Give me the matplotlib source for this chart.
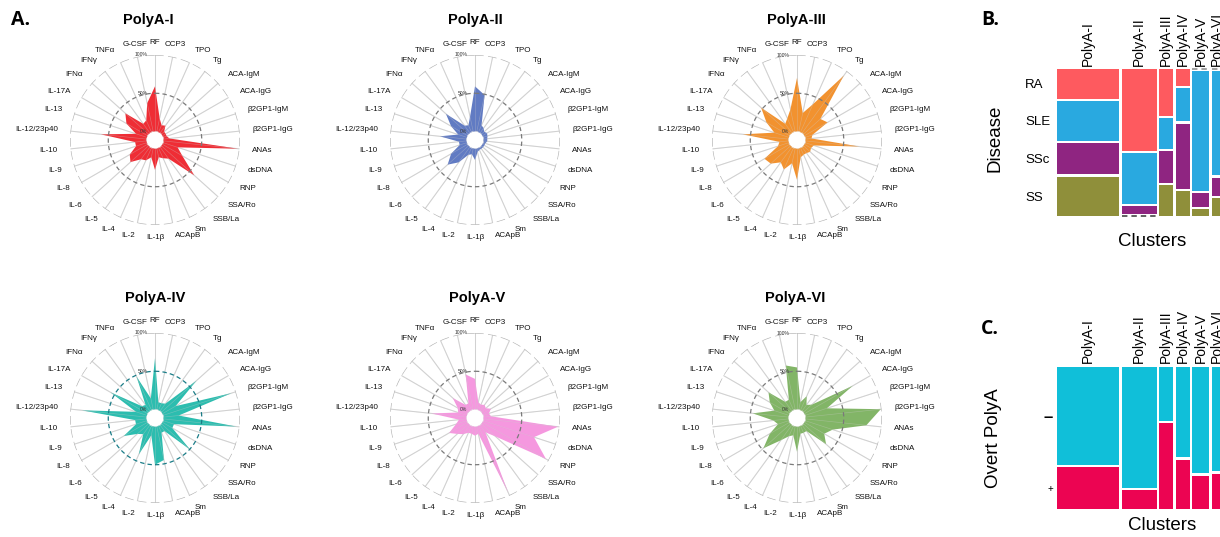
import numpy as np
import matplotlib
matplotlib.use("Agg")
import matplotlib.pyplot as plt

plt.rcParams["font.family"] = ["Liberation Sans", "DejaVu Sans"]

# ---------------- radar data (percent of cluster positive) ----------------
markers = ["RF", "CCP3", "TPO", "Tg", "ACA-IgM", "ACA-IgG", "β2GP1-IgM",
           "β2GP1-IgG", "ANAs", "dsDNA", "RNP", "SSA/Ro", "SSB/La", "Sm",
           "ACApB", "IL-1β", "IL-2", "IL-4", "IL-5", "IL-6", "IL-8", "IL-9",
           "IL-10", "IL-12/23p40", "IL-13", "IL-17A", "IFNα", "IFNγ", "TNFα",
           "G-CSF"]

polya_1 = [59, 18, 10, 12, 5, 5, 5, 8, 98, 20, 30, 58, 19, 15, 12, 28, 12, 18,
           20, 32, 27, 15, 15, 60, 15, 32, 41, 15, 17, 38]
polya_2 = [59, 49, 10, 8, 5, 7, 6, 5, 5, 3, 3, 3, 3, 3, 5, 15, 8, 10, 25, 37,
           25, 10, 10, 35, 12, 25, 40, 12, 10, 20]
polya_3 = [70, 25, 40, 93, 30, 35, 10, 8, 71, 12, 10, 12, 10, 10, 12, 41, 20,
           31, 25, 35, 38, 15, 12, 60, 20, 35, 52, 15, 20, 30]
polya_4 = [67, 10, 10, 12, 62, 20, 94, 20, 96, 15, 15, 51, 10, 10, 45, 50, 12,
           41, 15, 20, 36, 15, 15, 85, 15, 56, 12, 10, 48, 15]
polya_5 = [40, 10, 8, 10, 8, 13, 8, 10, 98, 70, 96, 25, 12, 95, 10, 12, 10, 10,
           15, 20, 28, 15, 10, 46, 12, 15, 28, 10, 10, 47]
polya_6 = [55, 10, 20, 10, 15, 73, 30, 99, 80, 38, 30, 40, 10, 10, 10, 33, 12,
           15, 25, 48, 30, 15, 20, 47, 20, 30, 39, 15, 15, 59]

cluster_names = ["PolyA-I", "PolyA-II", "PolyA-III", "PolyA-IV", "PolyA-V",
                 "PolyA-VI"]
cluster_colors = ["#EE1D25", "#5571BF", "#F28A1F", "#1CB8A9", "#F590DD",
                  "#79B05B"]

# ---------------- mosaic data ----------------
cluster_sizes = [62, 35, 14, 14, 17, 10]
diseases = ["RA", "SLE", "SSc", "SS"]
disease_colors = ["#FE5A5F", "#29A9E0", "#8F2581", "#8F8F3A"]
ra_share = [0.214, 0.582, 0.332, 0.122, 0.0, 0.0]
sle_share = [0.280, 0.364, 0.224, 0.236, 0.852, 0.743]
ssc_share = [0.225, 0.054, 0.222, 0.463, 0.100, 0.128]
ss_share = [0.281, 0.0, 0.222, 0.179, 0.048, 0.129]

overt_levels = ["–", "+"]
overt_colors = ["#10BFD9", "#EC0452"]
overt_neg = [0.703, 0.864, 0.388, 0.647, 0.761, 0.747]
overt_pos = [0.297, 0.136, 0.612, 0.353, 0.239, 0.253]

W, H = 1220, 537
fig = plt.figure(figsize=(W / 100, H / 100), dpi=100)


def px_axes(left, top, width, height, **kw):
    return fig.add_axes([left / W, 1 - (top + height) / H, width / W,
                         height / H], **kw)


# ---------------- radar panels ----------------
theta = np.linspace(0, 2 * np.pi, len(markers), endpoint=False)
circle = np.linspace(0, 2 * np.pi, 721)
R_IN = 100 / 9
RADIUS = 85


def radar(cx, cy, values, color, title, title_x, mid_color="#7a7a7a"):
    ax = px_axes(cx - RADIUS, cy - RADIUS, 2 * RADIUS, 2 * RADIUS,
                 projection="polar")
    ax.set_theta_zero_location("N")
    ax.set_theta_direction(-1)
    ax.set_ylim(0, 100)
    ax.set_rorigin(-R_IN)
    ax.axis("off")

    for t in theta:
        ax.plot([t, t], [0, 100], color="#cfcfcf", lw=0.75, zorder=1)
    ax.plot(circle, np.full_like(circle, 100), color="#b3b3b3", lw=0.9,
            ls=(0, (7, 3.5)), zorder=1)

    v = np.asarray(values, dtype=float)
    ax.fill(np.r_[theta, theta[:1]], np.r_[v, v[:1]], color=color,
            alpha=0.93, lw=0, zorder=2)
    for t in theta:
        ax.plot([t, t], [0, 100], color="#d8d8d8", lw=0.5, alpha=0.35,
                zorder=3)

    ax.plot(circle, np.full_like(circle, 50), color=mid_color, lw=0.9,
            ls=(0, (3.5, 2.5)), zorder=4)
    ax.plot(circle, np.zeros_like(circle), color="#e4e4e4", lw=0.7,
            ls=(0, (3, 2)), zorder=4)

    for txt, r in (("100%", 100), ("50%", 50), ("0%", 0)):
        ax.annotate(txt, xy=(0, r), xytext=(-5.5, 0),
                    textcoords="offset points", ha="right", va="center",
                    fontsize=3.6, color="#333333", zorder=5)

    r_lab = 1.15 * (100 + R_IN) - R_IN
    for t, name in zip(theta, markers):
        s, c = np.sin(t), np.cos(t)
        if abs(s) < 0.01 or (abs(s) < 0.25 and c > 0):
            ha = "center"
        else:
            ha = "left" if s > 0 else "right"
        ax.text(t, r_lab, name, ha=ha, va="center", fontsize=5.8,
                color="#111111")

    fig.text(title_x / W, 1 - (cy - 120) / H, title, ha="center",
             va="center", fontsize=10.5, fontweight="bold")


centers = [(155, 140), (475, 140), (797, 140),
           (155, 418), (475, 418), (797, 418)]
title_xs = [148, 475, 796, 155, 477, 795]
series = [polya_1, polya_2, polya_3, polya_4, polya_5, polya_6]
for i, ((cx, cy), vals) in enumerate(zip(centers, series)):
    radar(cx, cy, vals, cluster_colors[i], cluster_names[i], title_xs[i],
          mid_color="#1A7C87" if i == 3 else "#7a7a7a")


# ---------------- mosaic panels ----------------
COL_GAP = 2.6


def mosaic(top, height, shares, colors, gap_px, tick_labels):
    width = sum(cluster_sizes) + COL_GAP * (len(cluster_sizes) - 1)
    ax = px_axes(1057, top, width, height)
    ax.set_xlim(0, width)
    ax.set_ylim(1, 0)
    g = gap_px / height
    n = len(shares)
    lefts = np.r_[0, np.cumsum(np.asarray(cluster_sizes) + COL_GAP)[:-1]]
    first_centers = []
    for j, (x0, w) in enumerate(zip(lefts, cluster_sizes)):
        y = 0.0
        for k in range(n):
            h = shares[k][j] * (1 - (n - 1) * g)
            if h > 0:
                ax.bar(x0, h, width=w, bottom=y, align="edge",
                       color=colors[k], lw=0)
            else:
                ax.hlines(y, x0, x0 + w, colors="#555555" if y > 0.5 else
                          "#9a9a9a", lw=1.3, linestyles=(0, (3, 2.2)),
                          clip_on=False)
            if j == 0:
                first_centers.append(y + h / 2)
            y += h + g
    for s in ax.spines.values():
        s.set_visible(False)
    ax.xaxis.tick_top()
    ax.set_xticks(lefts + np.asarray(cluster_sizes) / 2)
    ax.set_xticklabels(cluster_names, rotation=90, fontsize=10)
    ax.tick_params(axis="x", length=0, pad=2.5)
    ax.set_yticks(first_centers)
    ax.set_yticklabels(tick_labels)
    return ax


ax_b = mosaic(69, 147, [ra_share, sle_share, ssc_share, ss_share],
              disease_colors, 2.3, diseases)
ax_b.tick_params(axis="y", length=0, pad=23, labelsize=9.5)
for lbl in ax_b.get_yticklabels():
    lbl.set_horizontalalignment("left")

ax_c = mosaic(366.7, 142.3, [overt_neg, overt_pos], overt_colors, 2.3,
              overt_levels)
ax_c.tick_params(axis="y", length=0, pad=3)
ylabels = ax_c.get_yticklabels()
ylabels[0].set_fontsize(12)
ylabels[0].set_fontweight("bold")
ylabels[1].set_fontsize(7)

fig.text(995 / W, 1 - 138 / H, "Disease", rotation=90, ha="center",
         va="center", fontsize=13.5)
fig.text(1152 / W, 1 - 241 / H, "Clusters", ha="center", va="center",
         fontsize=13.5)
fig.text(994 / W, 1 - 438 / H, "Overt PolyA", rotation=90, ha="center",
         va="center", fontsize=13.5)
fig.text(1162 / W, 1 - 525 / H, "Clusters", ha="center", va="center",
         fontsize=13.5)

# panel letters
for txt, x, y in (("A.", 11, 20), ("B.", 981, 20), ("C.", 981, 329)):
    fig.text(x / W, 1 - y / H, txt, ha="left", va="center", fontsize=14,
             fontweight="bold", family=["Open Sans", "DejaVu Sans"])

fig.savefig("out.png", dpi=100, facecolor="white")
